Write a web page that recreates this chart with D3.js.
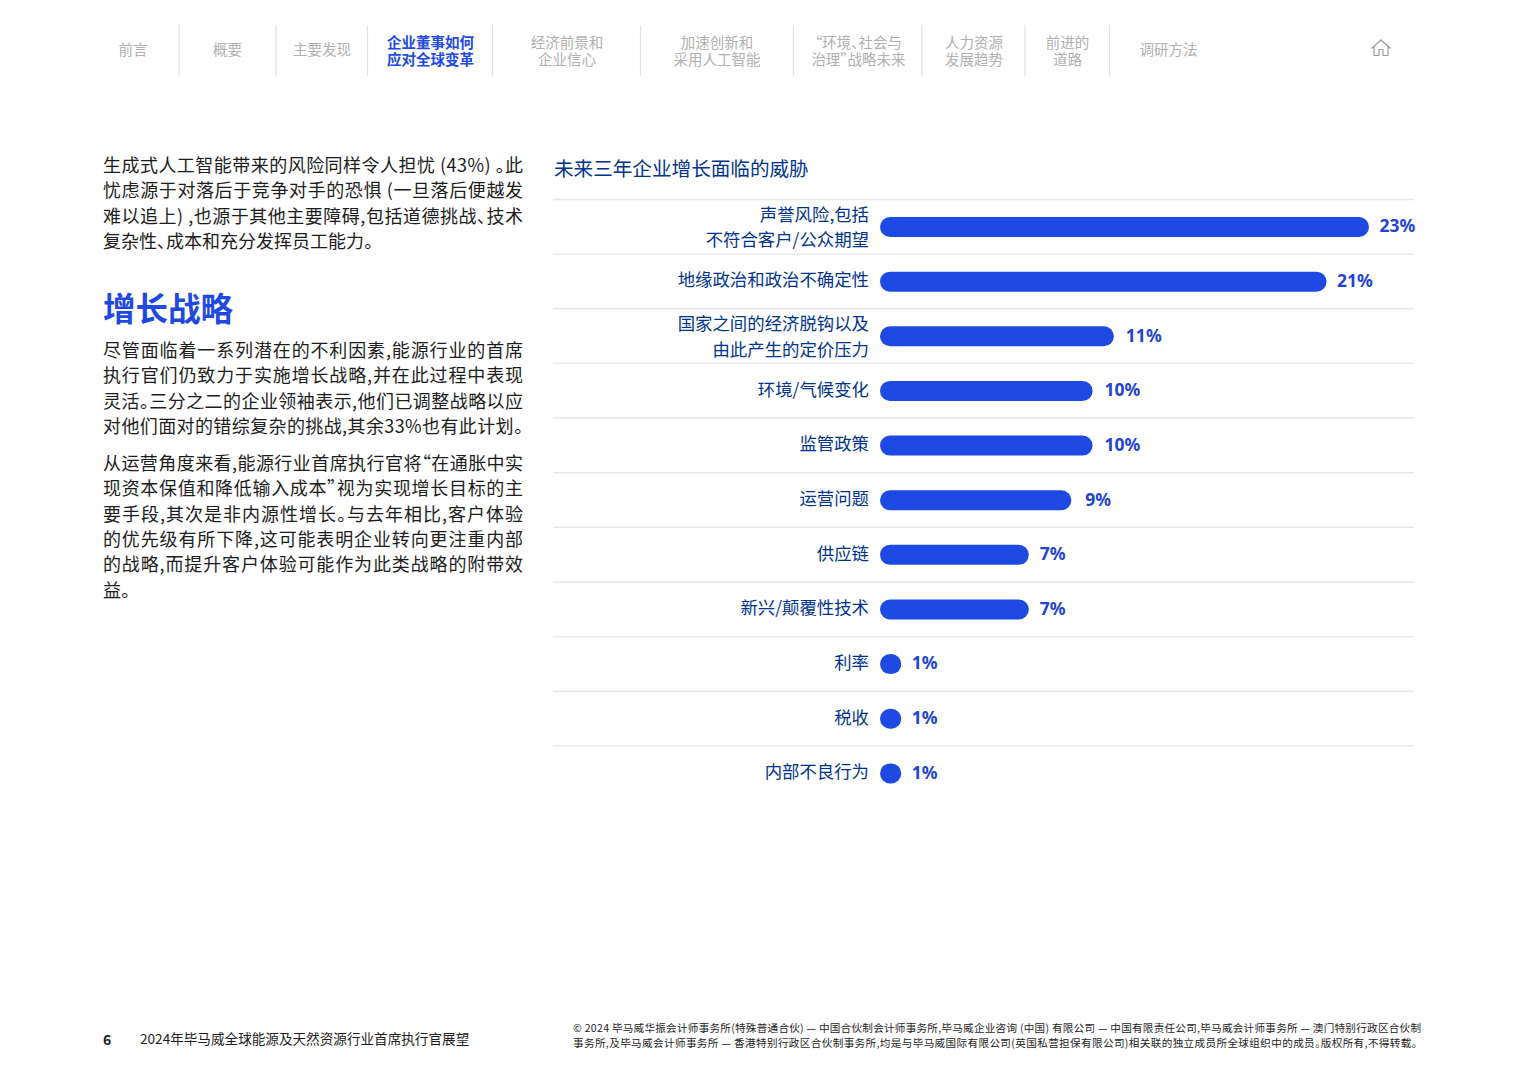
<!DOCTYPE html>
<html><head><meta charset="utf-8">
<script src="https://cdn.jsdelivr.net/npm/d3@7"></script>
<style>html,body{margin:0;padding:0;background:#fff;overflow:hidden}svg{display:block}text{font-family:"Noto Sans CJK SC","Noto Sans",sans-serif;font-feature-settings:"palt"}</style>
</head><body><svg id="c" width="1527" height="1080"></svg>
<script>
const categories=[["声誉风险,包括","不符合客户/公众期望"],["地缘政治和政治不确定性"],["国家之间的经济脱钩以及","由此产生的定价压力"],["环境/气候变化"],["监管政策"],["运营问题"],["供应链"],["新兴/颠覆性技术"],["利率"],["税收"],["内部不良行为"]];
const values=[23,21,11,10,10,9,7,7,1,1,1];
const chartTitle="未来三年企业增长面临的威胁";
const navLabels=[["前言"],["概要"],["主要发现"],["企业董事如何","应对全球变革"],["经济前景和","企业信心"],["加速创新和","采用人工智能"],["“环境、社会与","治理”战略未来"],["人力资源","发展趋势"],["前进的","道路"],["调研方法"]];
const navCenters=[133,227.5,322,430.5,567,717,858.5,974,1067.5,1168.5];
const navSeps=[179,276,367.5,492.5,640.5,793.5,922,1025,1109.5];
const activeNav=3;
const para1=["生成式人工智能带来的风险同样令人担忧 (43%) 。此","忧虑源于对落后于竞争对手的恐惧 (一旦落后便越发","难以追上) ,也源于其他主要障碍,包括道德挑战、技术","复杂性、成本和充分发挥员工能力。"];
const heading="增长战略";
const para2=["尽管面临着一系列潜在的不利因素,能源行业的首席","执行官们仍致力于实施增长战略,并在此过程中表现","灵活。三分之二的企业领袖表示,他们已调整战略以应","对他们面对的错综复杂的挑战,其余33%也有此计划。"];
const para3=["从运营角度来看,能源行业首席执行官将“在通胀中实","现资本保值和降低输入成本”视为实现增长目标的主","要手段,其次是非内源性增长。与去年相比,客户体验","的优先级有所下降,这可能表明企业转向更注重内部","的战略,而提升客户体验可能作为此类战略的附带效","益。"];
const footPage="6";
const footTitle="2024年毕马威全球能源及天然资源行业首席执行官展望";
const footLegal=["© 2024 毕马威华振会计师事务所(特殊普通合伙) — 中国合伙制会计师事务所,毕马威企业咨询 (中国) 有限公司 — 中国有限责任公司,毕马威会计师事务所 — 澳门特别行政区合伙制","事务所,及毕马威会计师事务所 — 香港特别行政区合伙制事务所,均是与毕马威国际有限公司(英国私营担保有限公司)相关联的独立成员所全球组织中的成员。版权所有,不得转载。"];

const BLUE="#1e49e2",LABEL="#2244d2",NAVY="#00338d",GREY="#b0b0b0",RULE="#e6e6e6",INK="#1c1c1c";
const svg=d3.select("#c");

// nav
navSeps.forEach(x=>svg.append("line").attr("x1",x).attr("x2",x).attr("y1",25).attr("y2",76).attr("stroke","#e2e2e2").attr("stroke-width",1.2));
navLabels.forEach((ls,i)=>{
  const a=i===activeNav;
  const t=svg.append("text").attr("text-anchor","middle").attr("font-size",14.5).attr("font-weight",a?700:400).attr("fill",a?BLUE:GREY);
  ls.forEach((s,j)=>t.append("tspan").attr("x",navCenters[i]).attr("y",ls.length===1?55:48+j*17).text(s));
});
// home icon
svg.append("path").attr("d","M1371.5 48.5 L1381 40 L1390.5 48.5 M1374 47 V55.5 H1379 V49.5 H1383 V55.5 H1388 V47")
  .attr("fill","none").attr("stroke","#9a9a9a").attr("stroke-width",1.2).attr("stroke-linejoin","round");

// left text
function block(lines,y0,lh,full){
  lines.forEach((t,i)=>{
    const el=svg.append("text").attr("x",103).attr("y",y0+i*lh).attr("font-size",18).attr("fill",INK).text(t);
    if(full[i]) el.attr("textLength",420).attr("lengthAdjust","spacing");
  });
}
block(para1,172,25.3,[1,1,1,0]);
svg.append("text").attr("x",103).attr("y",321).attr("font-size",32.5).attr("font-weight",700).attr("fill",BLUE).text(heading);
block(para2,357,25.3,[1,1,1,1]);
block(para3,470,25.3,[1,1,1,1,1,0]);

// chart
svg.append("text").attr("x",554).attr("y",176).attr("font-size",19.6).attr("fill",NAVY).text(chartTitle);
const x=d3.scaleLinear().domain([0,23]).range([880,1369]);
const y=d3.scaleBand().domain(d3.range(categories.length)).range([199.5,800.5]).paddingInner(0).paddingOuter(0);
const barH=20;
const g=svg.append("g");
g.selectAll("line.r").data(d3.range(categories.length)).join("line").attr("class","r")
  .attr("x1",553).attr("x2",1414).attr("y1",i=>y(i)).attr("y2",i=>y(i)).attr("stroke",RULE).attr("stroke-width",1.4);
g.selectAll("rect.b").data(values).join("rect").attr("class","b")
  .attr("x",x(0)).attr("width",d=>x(d)-x(0)).attr("height",barH).attr("rx",10).attr("ry",10)
  .attr("y",(d,i)=>y(i)+y.bandwidth()/2-barH/2+0.2).attr("fill",BLUE);
const labelGap=v=>v===9?14:(v===10||v===11?12:(v===7?11:10.5));
g.selectAll("text.v").data(values).join("text").attr("class","v")
  .attr("x",d=>x(d)+labelGap(d)).attr("y",(d,i)=>y(i)+y.bandwidth()/2+5.5)
  .style("font-family","'Noto Sans'").attr("font-size",17.5).attr("font-weight",700).attr("fill",LABEL).text(d=>d+"%");
categories.forEach((ls,i)=>{
  const c=y(i)+y.bandwidth()/2;
  const t=svg.append("text").attr("text-anchor","end").attr("font-size",17.4).attr("fill",NAVY);
  ls.forEach((s,j)=>t.append("tspan").attr("x",869).attr("y",ls.length===1?c+5:c-6+j*25.5).text(s));
});

// footer
svg.append("text").attr("x",103).attr("y",1045).attr("font-size",14).attr("font-weight",700).attr("fill",INK).text(footPage);
svg.append("text").attr("x",140).attr("y",1044).attr("font-size",13.6).attr("fill",INK).text(footTitle);
footLegal.forEach((t,i)=>svg.append("text").attr("x",573).attr("y",1032+i*14.5).attr("font-size",10.6).attr("fill",INK).attr("textLength",i?844:848).attr("lengthAdjust","spacing").text(t));
</script></body></html>
